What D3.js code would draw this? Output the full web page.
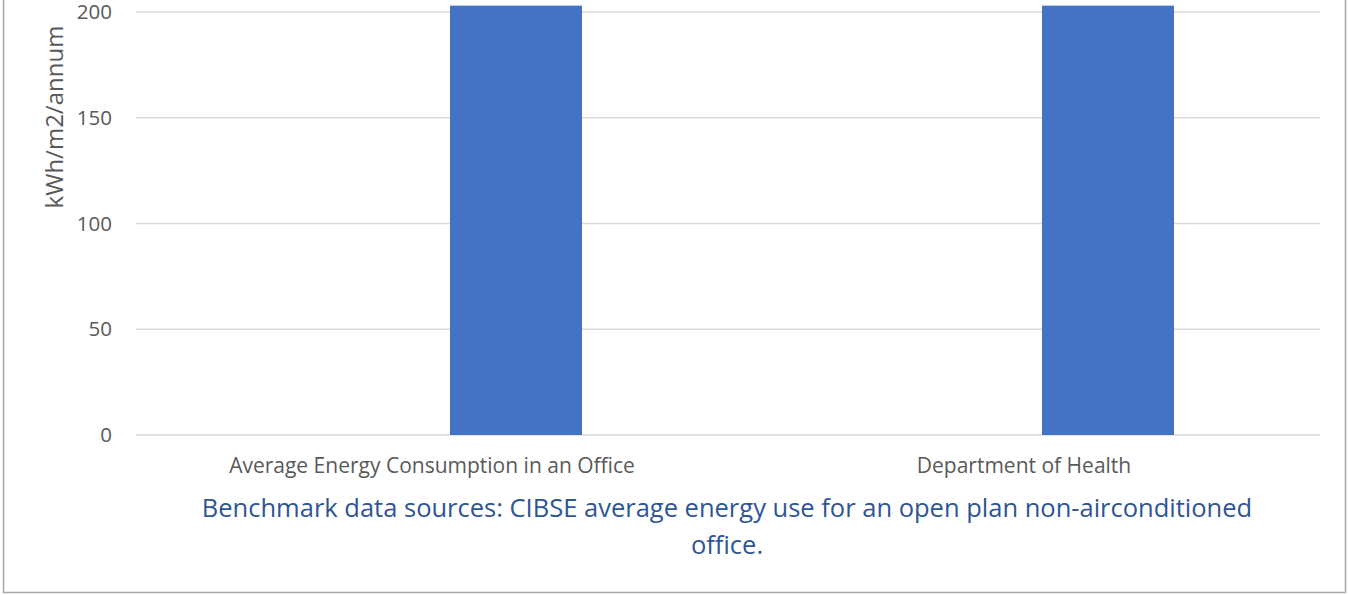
<!DOCTYPE html>
<html>
<head>
<meta charset="utf-8">
<script src="https://cdn.jsdelivr.net/npm/d3@7"></script>
<style>
  body { margin: 0; background: #fff; }
  svg { display: block; font-family: "Open Sans", sans-serif; }
</style>
</head>
<body>
<div class="canvas"></div>
<script>
// categories / series
var categories = ["Average Energy Consumption in an Office", "Department of Health"];
var seriesNames = ["Series1", "Series2"];
var series1 = [0, 0];
var series2 = [203, 203];
var yTicks = [0, 50, 100, 150, 200];
var yLabel = "kWh/m2/annum";
var caption = ["Benchmark data sources: CIBSE average energy use for an open plan non-airconditioned", "office."];

var width = 1349, height = 595;
var svg = d3.select(".canvas").append("svg")
  .attr("width", width)
  .attr("height", height);

// frame (top is cut off)
svg.append("rect")
  .attr("x", 3.5).attr("y", -20)
  .attr("width", 1342).attr("height", 612.5)
  .attr("fill", "none")
  .attr("stroke", "#a6a6a6")
  .attr("stroke-width", 1.5);

var left = 136, right = 1320;
var y = d3.scaleLinear().domain([0, 200]).range([435, 12]);
var x0 = d3.scaleBand().domain(categories).range([left, right]);
var x1 = d3.scaleBand().domain(seriesNames).range([0, x0.bandwidth()])
  .paddingInner(0.214).paddingOuter(0.869);

// gridlines
svg.append("g").selectAll("line")
  .data(yTicks).enter().append("line")
  .attr("x1", left).attr("x2", right)
  .attr("y1", function(d){ return y(d); })
  .attr("y2", function(d){ return y(d); })
  .attr("stroke", "#d9d9d9")
  .attr("stroke-width", 1.5);

// y axis labels
var axisy = d3.axisLeft(y).tickValues(yTicks).tickSize(0).tickPadding(0);
var gy = svg.append("g").attr("transform", "translate(112,0)").call(axisy);
gy.select(".domain").remove();
gy.selectAll("text")
  .attr("fill", "#595959")
  .style("font-size", "20.5px")
  .style("font-family", "'Open Sans', sans-serif");

// bars
var data = categories.map(function(c, i){
  return { cat: c, vals: [ {s: seriesNames[0], v: series1[i]}, {s: seriesNames[1], v: series2[i]} ] };
});
var g = svg.append("g").selectAll("g")
  .data(data).enter().append("g")
  .attr("transform", function(d){ return "translate(" + x0(d.cat) + ",0)"; });
g.selectAll("rect")
  .data(function(d){ return d.vals.filter(function(e){ return e.v > 0; }); })
  .enter().append("rect")
  .attr("x", function(d){ return x1(d.s); })
  .attr("width", x1.bandwidth())
  .attr("y", function(d){ return y(d.v); })
  .attr("height", function(d){ return y(0) - y(d.v); })
  .attr("fill", "#4472c4");

// x axis labels
var axisx = d3.axisBottom(x0).tickSize(0).tickPadding(0);
var gx = svg.append("g").attr("transform", "translate(0,458)").call(axisx);
gx.select(".domain").remove();
gx.selectAll("text")
  .attr("fill", "#595959")
  .style("font-size", "21px")
  .style("font-family", "'Open Sans', sans-serif");

// y axis title
svg.append("text")
  .text(yLabel)
  .attr("transform", "translate(63,117) rotate(-90)")
  .attr("text-anchor", "middle")
  .attr("fill", "#595959")
  .style("font-size", "24px");

// caption
svg.append("g").selectAll("text")
  .data(caption).enter().append("text")
  .text(function(d){ return d; })
  .attr("x", 727)
  .attr("y", function(d, i){ return 517 + i * 37; })
  .attr("text-anchor", "middle")
  .attr("fill", "#2f5597")
  .style("font-size", "25.5px");
</script>
</body>
</html>
